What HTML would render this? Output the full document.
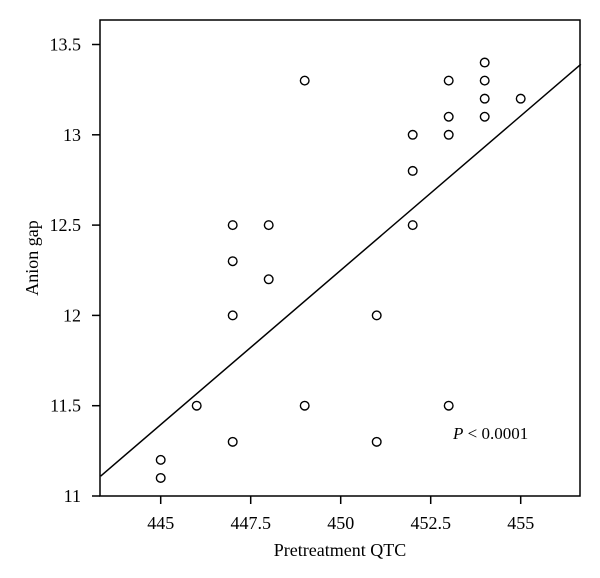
<!DOCTYPE html>
<html><head><meta charset="utf-8"><style>
body{margin:0;background:#fff}
svg{display:block;font-family:"Liberation Serif",serif}
</style></head><body>
<svg width="600" height="578" viewBox="0 0 600 578">
<rect x="100" y="20" width="480" height="476" fill="none" stroke="#000" stroke-width="1.5"/>
<g id="xt"></g><g id="yt"></g><g id="pts"></g>
<text x="340" y="556" font-size="18" text-anchor="middle">Pretreatment QTC</text>
<text transform="translate(38,258) rotate(-90)" font-size="18" text-anchor="middle">Anion gap</text>
<text x="453" y="439" font-size="17"><tspan font-style="italic">P</tspan> &lt; 0.0001</text>
</svg>
<script>
const xTicks=[445,447.5,450,452.5,455];
const xTickLabels=["445","447.5","450","452.5","455"];
const yTicks=[11,11.5,12,12.5,13,13.5];
const yTickLabels=["11","11.5","12","12.5","13","13.5"];
const qtc=[445,445,446,447,447,447,447,448,448,449,449,451,451,452,452,452,453,453,453,453,454,454,454,454,455];
const anionGap=[11.2,11.1,11.5,11.3,12.0,12.3,12.5,12.2,12.5,13.3,11.5,12.0,11.3,12.5,12.8,13.0,11.5,13.0,13.1,13.3,13.1,13.2,13.3,13.4,13.2];
const fitX=[443.33,456.67];
const fitY=[11.11,13.39];
const NS="http://www.w3.org/2000/svg";
const xs=v=>160.7+(v-445)*36;
const ys=v=>496-(v-11)*180.6;
function mk(t,a,p){const e=document.createElementNS(NS,t);for(const k in a)e.setAttribute(k,a[k]);p.appendChild(e);return e;}
const svg=document.querySelector('svg');
const xt=document.getElementById('xt'),yt=document.getElementById('yt'),pts=document.getElementById('pts');
xTicks.forEach((v,i)=>{
 const l=mk('line',{x1:xs(v),x2:xs(v),y1:496,y2:504,stroke:'#000','stroke-width':1.5},xt);
 
 
 const t=mk('text',{x:xs(v),y:529,'font-size':18,'text-anchor':'middle'},xt);t.textContent=xTickLabels[i];
 
 
});
yTicks.forEach((v,i)=>{
 const l=mk('line',{x1:92,x2:100,y1:ys(v),y2:ys(v),stroke:'#000','stroke-width':1.5},yt);
 
 
 const t=mk('text',{x:81,y:ys(v)+6,'font-size':18,'text-anchor':'end'},yt);t.textContent=yTickLabels[i];
 
 
});
const fl=mk('line',{x1:xs(fitX[0]),y1:ys(fitY[0]),x2:xs(fitX[1]),y2:ys(fitY[1]),stroke:'#000','stroke-width':1.5},svg);


qtc.forEach((v,i)=>{
 const c=mk('circle',{cx:xs(v),cy:ys(anionGap[i]),r:4.3,fill:'none',stroke:'#000','stroke-width':1.4},pts);
 
 
});
</script>
</body></html>
